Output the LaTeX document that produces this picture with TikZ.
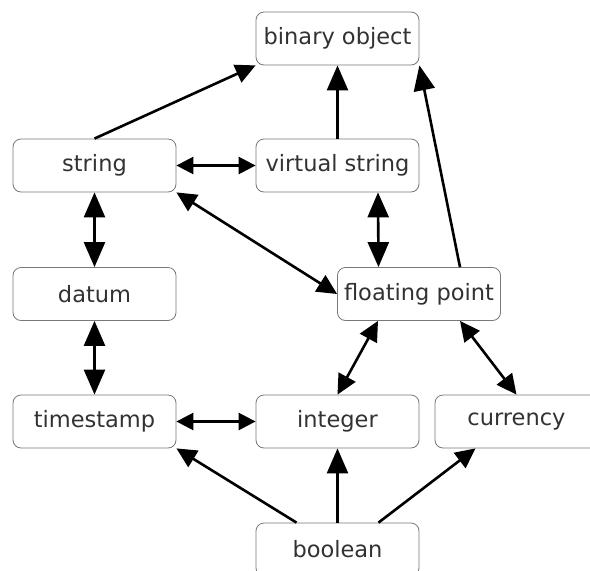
\documentclass[tikz,border=0pt]{standalone}
\usepackage{fontspec}
\setmainfont{DejaVu Sans}
\usetikzlibrary{arrows.meta,positioning}
\definecolor{boxline}{RGB}{120,120,120}
\definecolor{boxtext}{RGB}{50,50,50}

\begin{document}
\begin{tikzpicture}[x=1pt,y=1pt]
	\tikzstyle{every node}+=[inner sep=0pt]
	\tikzstyle{typebox}=[draw=boxline, line width=0.8pt, rounded corners=8pt,
		minimum width=163pt, minimum height=53pt, text=boxtext,
		font=\fontsize{22.5}{26}\selectfont]
	\tikzstyle{vtip}=[line width=2.6pt, >={Triangle[length=25pt,width=21pt]}]
	\tikzstyle{htip}=[line width=2.6pt, >={Triangle[length=17pt,width=17pt]}]
	\tikzstyle{dtip}=[line width=2.6pt, >={Triangle[length=20pt,width=19pt]}]
	\useasboundingbox (0,0) rectangle (590,-571);
	% the types
	\node [typebox] (binobj) at (337.5,-38.5) {binary object};
	\node [typebox] (string) at (94.5,-165.5) {string};
	\node [typebox] (vstring) at (337.5,-165.5) {virtual string};
	\node [typebox] (datum) at (94.5,-294) {datum};
	\node [typebox] (float) at (419,-294) {floating point};
	\node [typebox] (timestamp) at (94.5,-421.5) {timestamp};
	\node [typebox] (integer) at (337.5,-421.5) {integer};
	\node [typebox] (currency) at (516.5,-421.5) {currency};
	\node [typebox] (boolean) at (337.5,-549.5) {boolean};
	% one way
	\draw [dtip,->] (string.north) -- (binobj.south west);
	\draw [vtip,->] (vstring.north) -- (binobj.south);
	\draw [vtip,->] ([xshift=41pt]float.north) -- (binobj.south east);
	\draw [dtip,->] ([xshift=-41pt]boolean.north) -- (timestamp.south east);
	\draw [vtip,->] (boolean.north) -- (integer.south);
	\draw [dtip,->] ([xshift=41pt]boolean.north) -- ([xshift=-41pt]currency.south);
	% both ways
	\draw [htip,<->] (string.east) -- (vstring.west);
	\draw [dtip,<->] (string.south east) -- (float.west);
	\draw [vtip,<->] ([xshift=40.5pt]vstring.south) -- ([xshift=-40.5pt]float.north);
	\draw [vtip,<->] (string.south) -- (datum.north);
	\draw [vtip,<->] (datum.south) -- (timestamp.north);
	\draw [dtip,<->] ([xshift=-41pt]float.south) -- (integer.north);
	\draw [dtip,<->] ([xshift=41pt]float.south) -- (currency.north);
	\draw [htip,<->] (timestamp.east) -- (integer.west);
\end{tikzpicture}
\end{document}
